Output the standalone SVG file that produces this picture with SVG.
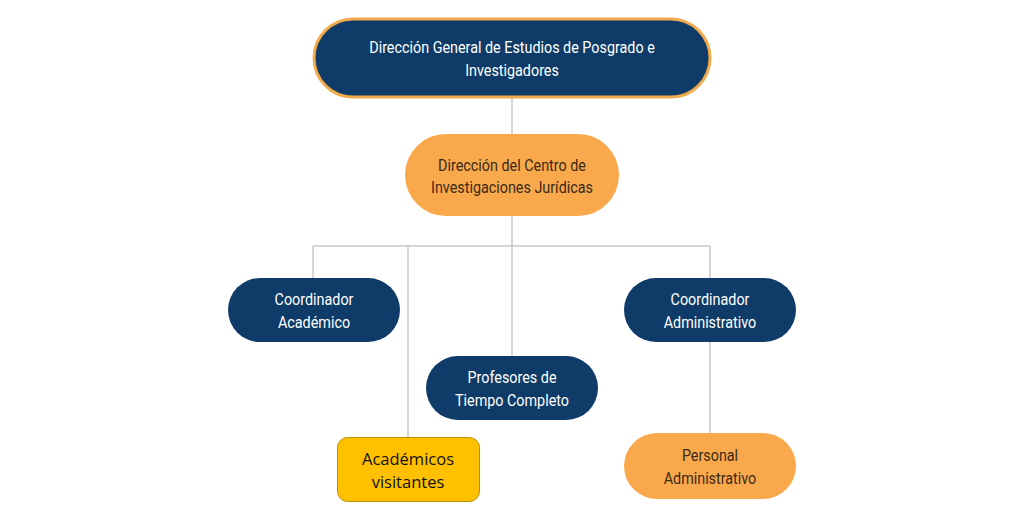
<svg xmlns="http://www.w3.org/2000/svg" width="1024" height="523" viewBox="0 0 1024 523">
<style>
.navy{fill:#0e3b67;}
.orange{fill:#f9a94b;}
.t{font-family:Roboto,"Liberation Sans",sans-serif;font-size:16.5px;text-anchor:middle;}
.w{fill:#ffffff;}
.d{fill:#3b2a18;}
.c{stroke:#c9c9c9;stroke-width:1.5;fill:none;}
</style>
<rect width="1024" height="523" fill="#ffffff"/>
<g id="connectors">
<path class="c" d="M512 98V246M313 246H710M313 246V278M408 246V437M512 246V356M710 246V278M710 342V433"/>
</g>
<g id="n1">
<rect x="314" y="19" width="396" height="78" rx="39" class="navy" stroke="#f1aa4c" stroke-width="3"/>
<g transform="translate(512 0) scale(0.87 1)">
<text class="t w" x="0" y="53">Dirección General de Estudios de Posgrado e</text>
<text class="t w" x="0" y="76">Investigadores</text>
</g>
</g>
<g id="n2">
<rect x="405" y="134" width="214" height="82" rx="41" class="orange"/>
<g transform="translate(512 0) scale(0.87 1)">
<text class="t d" x="0" y="171">Dirección del Centro de</text>
<text class="t d" x="0" y="193">Investigaciones Jurídicas</text>
</g>
</g>
<g id="n3">
<rect x="228" y="278" width="172" height="64" rx="32" class="navy"/>
<g transform="translate(314 0) scale(0.87 1)">
<text class="t w" x="0" y="305">Coordinador</text>
<text class="t w" x="0" y="328">Académico</text>
</g>
</g>
<g id="n4">
<rect x="426" y="356" width="172" height="64" rx="32" class="navy"/>
<g transform="translate(512 0) scale(0.87 1)">
<text class="t w" x="0" y="383">Profesores de</text>
<text class="t w" x="0" y="406">Tiempo Completo</text>
</g>
</g>
<g id="n5">
<rect x="624" y="278" width="172" height="64" rx="32" class="navy"/>
<g transform="translate(710 0) scale(0.87 1)">
<text class="t w" x="0" y="305">Coordinador</text>
<text class="t w" x="0" y="328">Administrativo</text>
</g>
</g>
<g id="n6">
<rect x="337.5" y="437.5" width="142" height="64" rx="10" fill="#ffc000" stroke="#b8900c" stroke-width="1"/>
<text x="408" y="465" font-family="'Open Sans','Liberation Sans',sans-serif" font-size="16.5" text-anchor="middle" fill="#111111">Académicos</text>
<text x="408" y="488" font-family="'Open Sans','Liberation Sans',sans-serif" font-size="16.5" text-anchor="middle" fill="#111111">visitantes</text>
</g>
<g id="n7">
<rect x="624" y="433" width="172" height="66" rx="33" class="orange"/>
<g transform="translate(710 0) scale(0.87 1)">
<text class="t d" x="0" y="461">Personal</text>
<text class="t d" x="0" y="484">Administrativo</text>
</g>
</g>
</svg>
